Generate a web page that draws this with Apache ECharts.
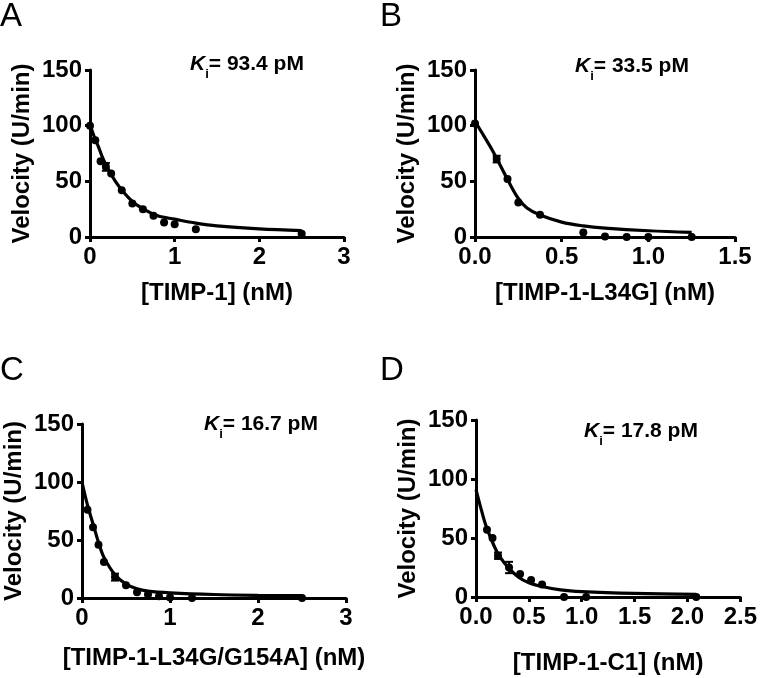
<!DOCTYPE html>
<html>
<head>
<meta charset="utf-8">
<script src="https://cdn.jsdelivr.net/npm/echarts@6/dist/echarts.min.js"></script>
<style>
html,body{margin:0;padding:0;background:#fff;}
#chart{width:760px;height:678px;}
</style>
</head>
<body>
<div id="chart"></div>
<script>
// ---------- Data ----------
// Panel A: [TIMP-1]
const aPointX = [0, 0.0625, 0.125, 0.1875, 0.25, 0.375, 0.5, 0.625, 0.75, 0.875, 1.0, 1.25, 2.5];
const aPointV = [100, 87, 68, 63, 57, 42, 30, 25, 19, 13, 11.5, 7, 3];
const aCurveX = [0, 0.05, 0.1, 0.15, 0.2, 0.3, 0.4, 0.5, 0.6, 0.8, 1.0, 1.25, 1.5, 2.0, 2.5];
const aCurveV = [101, 90, 81, 71, 63, 50, 40, 32, 26.5, 19, 16, 12.5, 10, 7.3, 5.7];
const aErrX = [0.1875];
const aErrSD = [3.5];

// Panel B: [TIMP-1-L34G]
const bPointX = [0, 0.125, 0.1875, 0.25, 0.375, 0.625, 0.75, 0.875, 1.0, 1.25];
const bPointV = [102, 70, 52, 31, 20, 4, 0.5, 0, 0, 0];
const bCurveX = [0, 0.05, 0.1, 0.15, 0.2, 0.25, 0.3, 0.375, 0.5, 0.625, 0.75, 1.0, 1.25];
const bCurveV = [104, 91, 78, 63, 48, 34.6, 26, 19.7, 13.4, 10, 8, 5.6, 4.2];
const bErrX = [0.125];
const bErrSD = [3];

// Panel C: [TIMP-1-L34G/G154A]
const cPointX = [0.0625, 0.125, 0.1875, 0.25, 0.375, 0.5, 0.625, 0.75, 0.875, 1.0, 1.25, 2.5];
const cPointV = [76, 61, 46, 31, 18, 11, 5, 3, 1.5, 0.5, 0, 0];
const cCurveX = [0, 0.0625, 0.125, 0.1875, 0.25, 0.375, 0.5, 0.625, 0.75, 1.0, 1.5, 2.0, 2.5];
const cCurveV = [100, 80, 64, 48, 35, 20, 12, 8, 6, 4.5, 3, 2.3, 2];
const cErrX = [0.375];
const cErrSD = [3];

// Panel D: [TIMP-1-C1]
const dPointX = [0.104, 0.156, 0.208, 0.3125, 0.417, 0.521, 0.625, 0.833, 1.042, 2.083];
const dPointV = [57, 50, 35, 25, 19.5, 14.5, 10.5, 0, 0, 0];
const dCurveX = [0, 0.05, 0.1, 0.2, 0.3, 0.4, 0.5, 0.6, 0.8, 1.0, 1.5, 2.083];
const dCurveV = [91, 74, 59, 38, 25.5, 17, 12, 9.3, 6, 4.5, 3, 2.3];
const dErrX = [0.208, 0.3125];
const dErrSD = [2.7, 4.8];

// Axis settings
const panelLetters = ['A', 'B', 'C', 'D'];
const kiValues = ['93.4', '33.5', '16.7', '17.8'];
const xNames = ['[TIMP-1] (nM)', '[TIMP-1-L34G] (nM)', '[TIMP-1-L34G/G154A] (nM)', '[TIMP-1-C1] (nM)'];
const xMax = [3, 1.5, 3, 2.5];
const xInterval = [1, 0.5, 1, 0.5];
const xDecimals = [0, 1, 0, 1];
const yMin = 0, yMax = 150, yInterval = 50;
const yName = 'Velocity (U/min)';

// ---------- Layout ----------
const FONT = '"Liberation Sans", Arial, Helvetica, sans-serif';
const grids = [
  {left: 90, top: 70, width: 254, height: 167},
  {left: 475, top: 70, width: 260, height: 167},
  {left: 82, top: 424, width: 264, height: 174},
  {left: 476, top: 420, width: 265, height: 177}
];
const xNameGaps = [44, 44, 48, 54];
const letterPos = [[0, 0], [380, 0], [0, 354], [380, 354]];
const kiPos = [[190, 54], [575, 56], [204, 414], [584, 421]];

const panels = [
  {px: aPointX, pv: aPointV, cx: aCurveX, cv: aCurveV, ex: aErrX, es: aErrSD},
  {px: bPointX, pv: bPointV, cx: bCurveX, cv: bCurveV, ex: bErrX, es: bErrSD},
  {px: cPointX, pv: cPointV, cx: cCurveX, cv: cCurveV, ex: cErrX, es: cErrSD},
  {px: dPointX, pv: dPointV, cx: dCurveX, cv: dCurveV, ex: dErrX, es: dErrSD}
];

const zip = (xs, ys) => xs.map((x, i) => [x, ys[i]]);

const axisCommon = {
  axisLine: {show: true, onZero: false, lineStyle: {color: '#000', width: 3}},
  axisTick: {show: true, inside: false, length: 5, lineStyle: {color: '#000', width: 3}},
  splitLine: {show: false},
  axisLabel: {color: '#000', fontSize: 24, fontWeight: 'bold', fontFamily: FONT},
  nameTextStyle: {color: '#000', fontSize: 24, fontWeight: 'bold', fontFamily: FONT}
};

const xAxes = [], yAxes = [], series = [], graphics = [];

panels.forEach((p, i) => {
  xAxes.push(Object.assign({}, axisCommon, {
    type: 'value', gridIndex: i, min: 0, max: xMax[i], interval: xInterval[i],
    name: xNames[i], nameLocation: 'middle', nameGap: xNameGaps[i],
    axisLabel: Object.assign({}, axisCommon.axisLabel, {
      margin: 8,
      formatter: v => v.toFixed(xDecimals[i])
    })
  }));
  yAxes.push(Object.assign({}, axisCommon, {
    type: 'value', gridIndex: i, min: yMin, max: yMax, interval: yInterval,
    name: yName, nameLocation: 'middle', nameGap: 56,
    axisLabel: Object.assign({}, axisCommon.axisLabel, {margin: 8})
  }));

  series.push({
    type: 'line', xAxisIndex: i, yAxisIndex: i,
    data: zip(p.cx, p.cv), showSymbol: false, smooth: 0.35,
    lineStyle: {color: '#000', width: 3.2}, z: 2, silent: true
  });
  series.push({
    type: 'scatter', xAxisIndex: i, yAxisIndex: i,
    data: zip(p.px, p.pv), symbol: 'circle', symbolSize: 8,
    itemStyle: {color: '#000', opacity: 1}, z: 3, silent: true
  });
  const errData = p.ex.map((x, k) => {
    const v = p.pv[p.px.indexOf(x)];
    return [x, v - p.es[k], v + p.es[k]];
  });
  series.push({
    type: 'custom', xAxisIndex: i, yAxisIndex: i, z: 4, silent: true,
    data: errData,
    encode: {x: 0, y: [1, 2]},
    renderItem: (params, api) => {
      const x = api.value(0);
      const lo = api.coord([x, api.value(1)]);
      const hi = api.coord([x, api.value(2)]);
      const w = 4;
      const st = {stroke: '#000', lineWidth: 2};
      return {type: 'group', children: [
        {type: 'line', shape: {x1: lo[0], y1: lo[1], x2: hi[0], y2: hi[1]}, style: st},
        {type: 'line', shape: {x1: lo[0] - w, y1: lo[1], x2: lo[0] + w, y2: lo[1]}, style: st},
        {type: 'line', shape: {x1: hi[0] - w, y1: hi[1], x2: hi[0] + w, y2: hi[1]}, style: st}
      ]};
    }
  });

  graphics.push({
    type: 'text', left: letterPos[i][0], top: letterPos[i][1],
    style: {text: panelLetters[i], fontSize: 33, fontFamily: FONT, fill: '#000'}
  });
  graphics.push({
    type: 'text', left: kiPos[i][0], top: kiPos[i][1],
    style: {
      text: '{k|K}{s|i}{t|= ' + kiValues[i] + ' pM}',
      rich: {
        k: {fontSize: 21, fontStyle: 'italic', fontWeight: 'bold', fontFamily: FONT, fill: '#000', lineHeight: 26, verticalAlign: 'bottom'},
        s: {fontSize: 13, fontWeight: 'bold', fontFamily: FONT, fill: '#000', lineHeight: 26, verticalAlign: 'bottom', padding: [0, 0, -6, 0]},
        t: {fontSize: 21, fontWeight: 'bold', fontFamily: FONT, fill: '#000', lineHeight: 26, verticalAlign: 'bottom'}
      }
    }
  });
});

const chart = echarts.init(document.getElementById('chart'), null, {renderer: 'canvas'});
chart.setOption({
  backgroundColor: '#fff',
  animation: false,
  grid: grids.map(g => Object.assign({containLabel: false}, g)),
  xAxis: xAxes,
  yAxis: yAxes,
  series: series,
  graphic: graphics
});
</script>
</body>
</html>
